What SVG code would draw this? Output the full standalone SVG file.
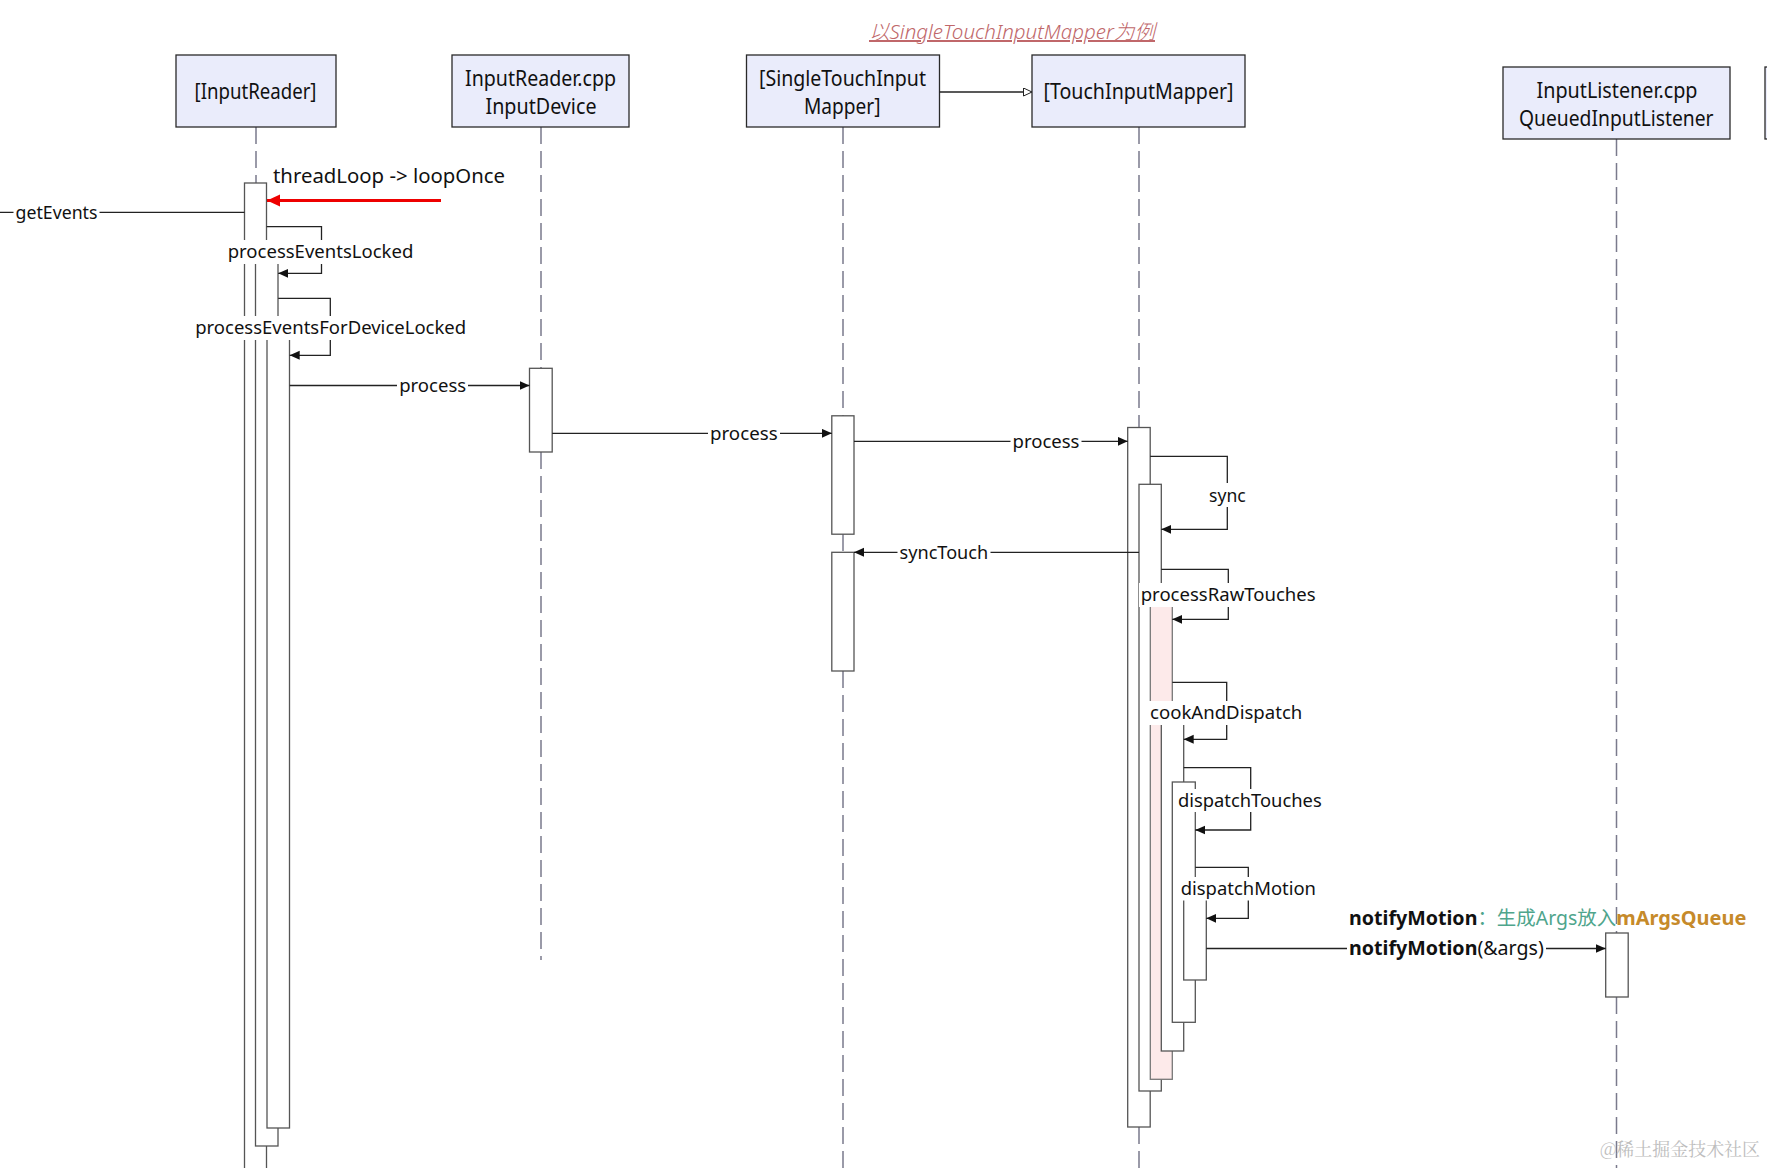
<svg xmlns="http://www.w3.org/2000/svg" width="1767" height="1168" viewBox="0 0 1767 1168">
<defs>
<style>
.hdr{fill:#eaecfb;stroke:#2a2a2a;stroke-width:1.3}
.ht{font-family:"Noto Sans","Open Sans",sans-serif;font-size:21px;fill:#111}
.life{stroke:#7a7a8c;stroke-width:1.5;stroke-dasharray:17 7;fill:none}
.bar{fill:#fff;stroke:#555;stroke-width:1.3}
.pink{fill:#fdeaea;stroke:#777;stroke-width:1.3}
.msg{stroke:#222;stroke-width:1.3;fill:none}
.lt{font-family:"Noto Sans","Open Sans",sans-serif;font-size:18.5px;fill:#111}
.bg{fill:#fff}
</style>
<marker id="ah" markerUnits="userSpaceOnUse" markerWidth="11" markerHeight="10" refX="10" refY="4.5" orient="auto">
<path d="M0,0 L10,4.5 L0,9 z" fill="#111"/>
</marker>
<marker id="ahr" markerUnits="userSpaceOnUse" markerWidth="14" markerHeight="13" refX="13" refY="6" orient="auto">
<path d="M0,0 L13,6 L0,12 z" fill="#e00"/>
</marker>
<marker id="open" markerUnits="userSpaceOnUse" markerWidth="10" markerHeight="10" refX="9" refY="4.5" orient="auto">
<path d="M0.5,0.5 L9,4.5 L0.5,8.5 z" fill="#fff" stroke="#222" stroke-width="1"/>
</marker>
</defs>

<text x="869" y="39" textLength="286" lengthAdjust="spacingAndGlyphs" font-family="Noto Sans, Open Sans, Noto Sans CJK SC, sans-serif" font-size="20" font-style="italic" font-weight="300" fill="#c0676a" text-decoration="underline">以SingleTouchInputMapper为例</text>

<g id="lifelines">
<line class="life" x1="256" y1="127" x2="256" y2="183"/>
<line class="life" x1="541" y1="127" x2="541" y2="368"/>
<line class="life" x1="541" y1="452" x2="541" y2="960"/>
<line class="life" x1="843" y1="127" x2="843" y2="416"/>
<line class="life" x1="843" y1="534" x2="843" y2="552"/>
<line class="life" x1="843" y1="671" x2="843" y2="1168"/>
<line class="life" x1="1139" y1="127" x2="1139" y2="427"/>
<line class="life" x1="1139" y1="1127" x2="1139" y2="1168"/>
<line class="life" x1="1616.5" y1="139" x2="1616.5" y2="933"/>
<line class="life" x1="1616.5" y1="997" x2="1616.5" y2="1168"/>
</g>

<g id="InputReader">
<rect class="hdr" x="176" y="55" width="160" height="72"/>
<text class="ht" x="194.5" y="98.5" textLength="122" lengthAdjust="spacingAndGlyphs">[InputReader]</text>
<rect class="bar" x="244.5" y="183" width="22" height="1000"/>
<rect class="bar" x="255.5" y="258" width="22.5" height="888"/>
<rect class="bar" x="267" y="336" width="22.5" height="792"/>
</g>

<g id="InputDevice">
<rect class="hdr" x="452" y="55" width="177" height="72"/>
<text class="ht" x="465" y="85.5" textLength="151" lengthAdjust="spacingAndGlyphs">InputReader.cpp</text>
<text class="ht" x="485.5" y="113.5" textLength="111" lengthAdjust="spacingAndGlyphs">InputDevice</text>
<rect class="bar" x="529.5" y="368.3" width="22.7" height="83.7"/>
</g>

<g id="SingleTouchInputMapper">
<rect class="hdr" x="746.5" y="55" width="193" height="72"/>
<text class="ht" x="759" y="85.5" textLength="167" lengthAdjust="spacingAndGlyphs">[SingleTouchInput</text>
<text class="ht" x="804" y="113.5" textLength="76.5" lengthAdjust="spacingAndGlyphs">Mapper]</text>
<rect class="bar" x="831.8" y="415.8" width="22.2" height="118.4"/>
<rect class="bar" x="831.8" y="552.3" width="22.2" height="118.7"/>
</g>

<g id="TouchInputMapper">
<rect class="hdr" x="1032" y="55" width="213" height="72"/>
<text class="ht" x="1043.5" y="98.5" textLength="190" lengthAdjust="spacingAndGlyphs">[TouchInputMapper]</text>
<rect class="bar" x="1127.7" y="427.5" width="22.5" height="699.5"/>
<rect class="bar" x="1139" y="484.3" width="22.3" height="606.7"/>
<rect class="pink" x="1150.3" y="600" width="22" height="479.3"/>
<rect class="bar" x="1161.3" y="718" width="22.4" height="333"/>
<rect class="bar" x="1172.3" y="782" width="23" height="240.3"/>
<rect class="bar" x="1183.7" y="895" width="22.6" height="85"/>
</g>

<g id="QueuedInputListener">
<rect class="hdr" x="1503" y="67" width="227" height="72"/>
<text class="ht" x="1536.5" y="97.5" textLength="161" lengthAdjust="spacingAndGlyphs">InputListener.cpp</text>
<text class="ht" x="1519" y="125.5" textLength="194.5" lengthAdjust="spacingAndGlyphs">QueuedInputListener</text>
<rect class="bar" x="1605.7" y="933" width="22.5" height="64"/>
</g>

<g id="Partial">
<rect class="hdr" x="1765" y="67" width="30" height="72"/>
</g>

<g id="connectors">
<line class="msg" x1="939.5" y1="92" x2="1032" y2="92" marker-end="url(#open)"/>
<line class="msg" x1="0" y1="212.3" x2="244.5" y2="212.3"/>
<line x1="441" y1="200.5" x2="267" y2="200.5" stroke="#e00" stroke-width="3" marker-end="url(#ahr)"/>
<polyline class="msg" points="266.7,226.7 321.5,226.7 321.5,273.3 278.2,273.3" marker-end="url(#ah)"/>
<polyline class="msg" points="278.2,298.3 330.3,298.3 330.3,355.3 289.7,355.3" marker-end="url(#ah)"/>
<line class="msg" x1="289.7" y1="385.5" x2="529.5" y2="385.5" marker-end="url(#ah)"/>
<line class="msg" x1="552.2" y1="433.3" x2="831.8" y2="433.3" marker-end="url(#ah)"/>
<line class="msg" x1="854" y1="441.3" x2="1127.7" y2="441.3" marker-end="url(#ah)"/>
<polyline class="msg" points="1150.2,456.3 1227.3,456.3 1227.3,529.3 1161.3,529.3" marker-end="url(#ah)"/>
<line class="msg" x1="1139" y1="552.3" x2="854" y2="552.3" marker-end="url(#ah)"/>
<polyline class="msg" points="1161.3,569.3 1228.3,569.3 1228.3,619.3 1172.3,619.3" marker-end="url(#ah)"/>
<polyline class="msg" points="1172.3,682.3 1226.7,682.3 1226.7,739.3 1183.7,739.3" marker-end="url(#ah)"/>
<polyline class="msg" points="1183.7,767.7 1250.7,767.7 1250.7,830 1195.3,830" marker-end="url(#ah)"/>
<polyline class="msg" points="1195.3,867.3 1248.3,867.3 1248.3,918.3 1206.3,918.3" marker-end="url(#ah)"/>
<line class="msg" x1="1206.3" y1="948.5" x2="1605.7" y2="948.5" marker-end="url(#ah)"/>
</g>

<g id="labels">
<text x="273" y="183" textLength="232" lengthAdjust="spacingAndGlyphs" font-family="Noto Sans, Open Sans, sans-serif" font-size="20.5" fill="#111">threadLoop -&gt; loopOnce</text>
<rect class="bg" x="13.5" y="200" width="86" height="24"/>
<text class="lt" x="15.5" y="218.5" textLength="82" lengthAdjust="spacingAndGlyphs">getEvents</text>
<rect class="bg" x="225.5" y="240" width="190" height="24"/>
<text class="lt" x="227.7" y="258" textLength="185.6" lengthAdjust="spacingAndGlyphs">processEventsLocked</text>
<rect class="bg" x="193" y="316" width="275" height="24"/>
<text class="lt" x="195.2" y="334" textLength="271" lengthAdjust="spacingAndGlyphs">processEventsForDeviceLocked</text>
<rect class="bg" x="397" y="374" width="71" height="23"/>
<text class="lt" x="399.2" y="391.5" textLength="67" lengthAdjust="spacingAndGlyphs">process</text>
<rect class="bg" x="708" y="422" width="72" height="23"/>
<text class="lt" x="710" y="440" textLength="67.6" lengthAdjust="spacingAndGlyphs">process</text>
<rect class="bg" x="1010.5" y="430" width="71" height="23"/>
<text class="lt" x="1012.5" y="447.5" textLength="67" lengthAdjust="spacingAndGlyphs">process</text>
<rect class="bg" x="1207" y="483" width="41" height="24"/>
<text class="lt" x="1209" y="501.5" textLength="36.7" lengthAdjust="spacingAndGlyphs">sync</text>
<rect class="bg" x="897.5" y="541" width="93" height="23"/>
<text class="lt" x="899.6" y="559" textLength="88.6" lengthAdjust="spacingAndGlyphs">syncTouch</text>
<rect class="bg" x="1139" y="583" width="179" height="24"/>
<text class="lt" x="1140.7" y="601.2" textLength="175" lengthAdjust="spacingAndGlyphs">processRawTouches</text>
<rect class="bg" x="1148.5" y="701" width="156" height="24"/>
<text class="lt" x="1150" y="719.2" textLength="152.3" lengthAdjust="spacingAndGlyphs">cookAndDispatch</text>
<rect class="bg" x="1176" y="789" width="148" height="23"/>
<text class="lt" x="1178" y="807.2" textLength="143.7" lengthAdjust="spacingAndGlyphs">dispatchTouches</text>
<rect class="bg" x="1178.7" y="877" width="139.5" height="23.5"/>
<text class="lt" x="1180.7" y="895.2" textLength="135.3" lengthAdjust="spacingAndGlyphs">dispatchMotion</text>
<text x="1349" y="924.5" font-family="Noto Sans, Open Sans, Noto Sans CJK SC, sans-serif" font-size="19.5"><tspan font-weight="bold" fill="#111" textLength="128.4" lengthAdjust="spacingAndGlyphs">notifyMotion</tspan><tspan fill="#4fa58c" x="1477.4" textLength="138.8" lengthAdjust="spacingAndGlyphs">：生成Args放入</tspan><tspan font-weight="bold" fill="#c68a2a" x="1616.2" textLength="130.2" lengthAdjust="spacingAndGlyphs">mArgsQueue</tspan></text>
<rect class="bg" x="1347" y="936" width="199" height="25"/>
<text x="1349" y="955" font-family="Noto Sans, Open Sans, sans-serif" font-size="19.5" fill="#111"><tspan font-weight="bold" textLength="128.4" lengthAdjust="spacingAndGlyphs">notifyMotion</tspan><tspan x="1477.4" textLength="66.4" lengthAdjust="spacingAndGlyphs">(&amp;args)</tspan></text>
<text x="1600" y="1156" textLength="160" lengthAdjust="spacingAndGlyphs" font-family="Noto Serif CJK SC, Noto Sans CJK SC, sans-serif" font-size="18" fill="#bdbdbd">@稀土掘金技术社区</text>
</g>
</svg>
